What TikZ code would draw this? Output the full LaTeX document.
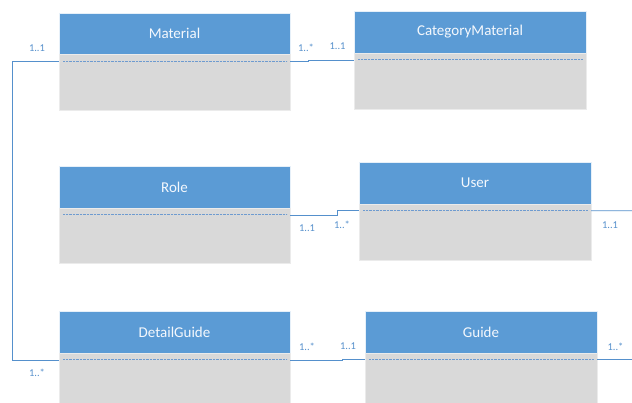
\documentclass[tikz,border=0pt]{standalone}
\usepackage{fontspec}
\setmainfont{Carlito}
\newfontfamily\classfont{Carlito}
\definecolor{hblue}{HTML}{5B9BD5}
\definecolor{bgray}{HTML}{D9D9D9}
\definecolor{lblue}{HTML}{5590CC}
\definecolor{dotc}{HTML}{6E9BD0}
\definecolor{ttl}{HTML}{F4F8FD}
\tikzset{
  hdr/.style={rectangle, fill=hblue, draw=white!85!hblue, line width=0.5bp,
    text=ttl, font=\classfont\fontsize{15bp}{18bp}\selectfont,
    minimum height=41bp, anchor=north west, inner sep=0pt, outer sep=0pt},
  bdy/.style={rectangle, fill=bgray, draw=white!92!black, line width=0.5bp,
    anchor=north west, inner sep=0pt, outer sep=0pt},
  sep/.style={draw=dotc, line width=0.7bp, dash pattern=on 0.8bp off 0.6bp},
  link/.style={draw=lblue, line width=0.9bp},
  mult/.style={text=lblue, font=\fontsize{10.5bp}{12bp}\selectfont, inner sep=0pt}
}
\begin{document}
\begin{tikzpicture}[x=1bp,y=-1bp]
\useasboundingbox (0,0) rectangle (632,402);
\fill[white] (0,0) rectangle (632,402);

% ---- classes: header + body + dotted separator ----
\node[hdr, minimum width=231bp] (matH) at (59,13) {Material};
\node[bdy, minimum width=231bp, minimum height=56bp] (matB) at (59,54) {};
\draw[sep] ([xshift=4bp,yshift=-7bp]matB.north west) -- ([xshift=-3bp,yshift=-7bp]matB.north east);

\node[hdr, minimum width=232bp, minimum height=42bp] (catH) at (354,11) {CategoryMaterial};
\node[bdy, minimum width=232bp, minimum height=56bp] (catB) at (354,53) {};
\draw[sep] ([xshift=4bp,yshift=-6bp]catB.north west) -- ([xshift=-3bp,yshift=-6bp]catB.north east);

\node[hdr, minimum width=231bp, minimum height=42bp] (roleH) at (59,166) {Role};
\node[bdy, minimum width=231bp, minimum height=55bp] (roleB) at (59,208) {};
\draw[sep] ([xshift=4bp,yshift=-6bp]roleB.north west) -- ([xshift=-3bp,yshift=-6bp]roleB.north east);

\node[hdr, minimum width=232bp, minimum height=42bp] (userH) at (359,162) {User};
\node[bdy, minimum width=232bp, minimum height=56bp] (userB) at (359,204) {};
\draw[sep] ([xshift=4bp,yshift=-6bp]userB.north west) -- ([xshift=-3bp,yshift=-6bp]userB.north east);

\node[hdr, minimum width=231bp, minimum height=42bp] (dgH) at (59,311) {DetailGuide};
\node[bdy, minimum width=231bp, minimum height=56bp] (dgB) at (59,353) {};
\draw[sep] ([xshift=4bp,yshift=-6bp]dgB.north west) -- ([xshift=-3bp,yshift=-6bp]dgB.north east);

\node[hdr, minimum width=232bp, minimum height=42bp] (guideH) at (365,311) {Guide};
\node[bdy, minimum width=232bp, minimum height=56bp] (guideB) at (365,353) {};
\draw[sep] ([xshift=4bp,yshift=-6bp]guideB.north west) -- ([xshift=-3bp,yshift=-6bp]guideB.north east);

% ---- associations ----
\coordinate (userOut) at (632,210.7);
\coordinate (guideOut) at (632,359.5);

\draw[link] ([yshift=-7bp]matB.north west) -- ++(-47,0) |- ([yshift=-7.6bp]dgB.north west);
\draw[link] ([yshift=-7bp]matB.north east) -- ++(18,0) |- ([yshift=-7bp]catB.north west);
\draw[link] ([yshift=-7bp]roleB.north east) -- ++(47,0) |- ([yshift=-6.7bp]userB.north west);
\draw[link] ([yshift=-6.7bp]userB.north east) -- (userOut);
\draw[link] ([yshift=-7.6bp]dgB.north east) -- ++(52,0) |- ([yshift=-6bp]guideB.north west);
\draw[link] ([yshift=-6.5bp]guideB.north east) -- (guideOut);

% ---- multiplicities ----
\node[mult] (m1) at (37,48.5) {1..1};
\node[mult] (m2) at (306,48) {1..*};
\node[mult] (m3) at (337.5,46.5) {1..1};
\node[mult] (m4) at (307,228.5) {1..1};
\node[mult] (m5) at (342,224.5) {1..*};
\node[mult] (m6) at (610,225) {1..1};
\node[mult] (m7) at (37,373) {1..*};
\node[mult] (m8) at (307,347) {1..*};
\node[mult] (m9) at (348,346.5) {1..1};
\node[mult] (m10) at (615.5,347) {1..*};
\end{tikzpicture}
\end{document}
